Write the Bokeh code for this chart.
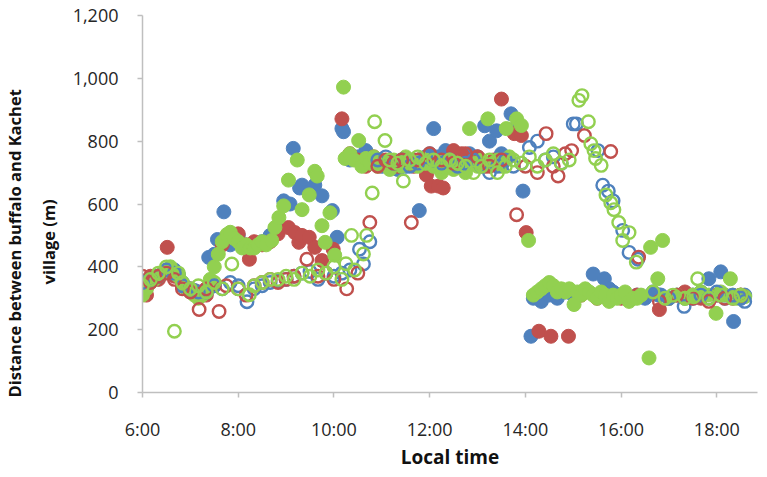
from bokeh.plotting import figure
from bokeh.models import FixedTicker, NumeralTickFormatter, Title
from bokeh.embed import file_html
from bokeh.resources import INLINE

# ---------------- data (local time "H:MM", distance in m) ----------------
blue_fill_t = ["6:00","6:05","6:10","6:15","6:20","6:25","6:30","6:35","6:40","6:45","6:50","6:55",
               "7:00","7:05","7:10","7:15","7:20","7:23","7:30","7:34","7:42","7:50","8:00","8:10",
               "8:20","8:30","8:40","8:50","8:57","9:05","9:09","9:17","9:20","9:30","9:36","9:45",
               "9:58","10:04","10:10","10:12","10:20","10:30","10:40","10:50","11:00","11:10","11:20",
               "11:30","11:40","11:47","11:50","12:00","12:05","12:10","12:20","12:30","12:40","12:50",
               "13:00","13:09","13:15","13:24","13:30","13:42","13:50","13:57","14:07","14:10","14:20",
               "14:30","14:40","14:50","15:00","15:10","15:25","15:39","15:45","15:50","16:00","16:10",
               "16:20","16:30","16:40","16:50","17:00","17:10","17:20","17:30","17:40","17:50","18:00",
               "18:05","18:10","18:21","18:30","18:35"]
blue_fill_v = [355,340,360,370,365,380,385,395,390,375,350,330,
               320,325,315,310,330,430,440,487,575,470,500,460,
               470,480,500,520,610,600,777,651,660,640,660,626,
               579,494,840,830,740,750,770,740,720,730,710,
               720,740,579,730,760,840,750,770,740,730,760,
               750,849,800,833,760,887,850,641,179,300,290,
               310,300,320,310,320,377,362,330,320,310,300,
               310,300,320,310,300,310,300,310,320,362,310,
               384,310,226,300,310]

red_fill_t = ["6:00","6:05","6:10","6:20","6:31","6:40","6:50","7:00","7:10","7:20","7:30","7:40",
              "7:50","8:00","8:10","8:14","8:20","8:30","8:40","8:50","9:03","9:11","9:16","9:20",
              "9:29","9:36","9:45","9:59","10:10","10:20","10:30","10:40","10:50","11:00","11:10",
              "11:20","11:30","11:40","11:50","11:56","12:02","12:11","12:17","12:30","12:40","12:50",
              "13:00","13:10","13:20","13:30","13:46","13:55","14:01","14:17","14:32","14:54","15:10",
              "15:30","16:00","16:20","16:48","17:00","17:20","17:40","18:00","18:20","18:30"]
red_fill_v = [320,310,370,360,462,370,340,330,320,310,340,470,
              500,505,470,424,480,470,480,505,525,509,478,500,
              494,462,420,456,871,760,740,720,750,730,740,
              720,730,720,740,692,657,657,651,770,760,740,
              750,720,740,934,824,818,509,195,179,179,310,
              300,300,310,264,300,320,300,310,300,310]

green_fill_t = ["6:00","6:05","6:10","6:15","6:20","6:25","6:30","6:35","6:40","6:45","6:50","6:55",
                "7:00","7:05","7:10","7:15","7:20","7:25","7:30","7:35","7:40","7:46","7:50","7:55",
                "8:00","8:05","8:10","8:15","8:20","8:25","8:30","8:35","8:42","8:46","8:51","8:57",
                "9:03","9:14","9:20","9:29","9:36","9:39","9:45","9:49","9:55","10:01","10:12","10:14",
                "10:20","10:25","10:31","10:35","10:40","10:45","10:50","10:55","11:00","11:05","11:10",
                "11:15","11:20","11:25","11:30","11:35","11:40","11:45","11:50","11:55","12:00","12:05",
                "12:10","12:15","12:20","12:25","12:30","12:35","12:40","12:45","12:50","12:55","13:00",
                "13:05","13:13","13:20","13:25","13:30","13:36","13:40","13:49","13:55","14:04","14:10",
                "14:15","14:20","14:25","14:30","14:35","14:40","14:45","14:50","14:55","15:01","15:05",
                "15:10","15:15","15:20","15:25","15:30","15:35","15:40","15:45","15:50","15:55","16:00",
                "16:05","16:10","16:15","16:20","16:25","16:35","16:37","16:46","16:52","17:00","17:10",
                "17:20","17:30","17:40","17:50","17:59","18:05","18:10","18:17","18:20","18:25","18:30",
                "18:35"]
green_fill_v = [310,330,350,360,370,380,390,400,380,370,340,330,
                320,310,300,310,320,360,400,440,480,503,510,490,
                480,460,470,460,460,470,480,470,484,525,557,594,
                676,740,582,629,704,689,531,478,572,437,972,745,
                760,740,802,720,745,730,750,720,740,730,710,
                740,730,720,750,730,740,720,745,730,740,720,
                735,700,720,740,710,730,720,700,840,730,720,
                740,871,730,740,720,840,750,871,850,484,310,
                320,330,340,350,340,320,330,320,330,280,320,
                310,330,320,310,300,320,310,290,310,300,310,
                320,290,300,300,310,110,462,362,484,300,310,
                300,310,320,310,252,320,310,362,310,300,310,
                305]

blue_open_t = ["6:00","6:10","6:20","6:30","6:40","6:50","7:00","7:10","7:20","7:30","7:40","7:50",
               "8:00","8:11","8:20","8:30","8:40","8:50","9:00","9:10","9:20","9:30","9:40","9:50",
               "10:00","10:10","10:20","10:32","10:37","10:45","10:55","11:05","11:15","11:25","11:35",
               "11:45","11:55","12:05","12:15","12:25","12:35","12:45","12:55","13:05","13:15","13:25",
               "13:35","13:45","13:55","14:05","14:15","14:25","14:35","14:45","15:00","15:04","15:31",
               "15:37","15:44","15:50","16:02","16:10","16:21","16:46","17:00","17:19","17:30","17:40",
               "17:50","18:00","18:10","18:20","18:30","18:35"]
blue_open_v = [350,360,370,390,380,340,330,320,320,340,330,350,
               340,289,330,340,350,355,360,370,380,385,360,380,
               370,380,390,456,409,480,740,750,730,740,720,
               730,750,740,730,740,720,730,740,720,700,720,
               740,720,730,780,800,740,750,730,855,855,770,
               660,641,610,516,446,424,311,300,274,300,310,
               300,320,300,310,300,290]

red_open_t = ["6:00","6:10","6:20","6:30","6:40","6:50","7:00","7:11","7:20","7:36","7:45","8:00",
              "8:10","8:20","8:30","8:40","8:50","9:00","9:10","9:26","9:40","9:50","10:00","10:16",
              "10:30","10:45","10:55","11:05","11:15","11:25","11:37","11:45","12:00","12:15","12:30",
              "12:45","13:00","13:15","13:30","13:49","14:00","14:15","14:26","14:35","14:41","14:50",
              "14:58","15:14","15:47","16:22","16:48","17:10","17:30","17:50","18:10","18:30"]
red_open_v = [370,350,370,380,360,330,320,264,330,258,340,330,
              310,340,350,360,350,360,370,424,370,380,360,330,
              380,541,720,740,730,740,541,740,760,740,730,
              760,750,720,740,566,720,700,824,720,689,760,
              770,818,767,431,290,310,300,290,300,310]

green_open_t = ["6:00","6:10","6:20","6:30","6:40","6:45","6:50","7:00","7:10","7:20","7:30","7:40",
                "7:52","8:00","8:14","8:20","8:30","8:40","8:50","9:00","9:10","9:20","9:30","9:40",
                "9:50","10:00","10:10","10:15","10:22","10:26","10:37","10:41","10:48","10:51","11:04",
                "11:10","11:20","11:27","11:35","11:45","11:55","12:05","12:15","12:25","12:35","12:45",
                "12:55","13:05","13:15","13:25","13:35","13:45","13:55","14:05","14:15","14:25","14:35",
                "14:45","14:55","15:07","15:11","15:19","15:22","15:26","15:28","15:35","15:41","15:47",
                "15:51","15:57","16:02","16:10","16:19","16:40","16:55","17:05","17:20","17:31","17:36",
                "17:50","18:05","18:20","18:30"]
green_open_v = [340,360,380,400,195,380,350,330,340,320,350,330,
                409,330,311,340,350,360,360,370,360,380,370,390,
                380,400,360,410,500,390,441,500,635,862,802,
                740,730,673,740,750,730,740,720,740,730,720,
                700,720,740,700,720,740,730,750,720,740,760,
                730,740,930,945,862,792,770,745,723,629,604,
                582,541,484,509,415,320,300,310,300,305,362,
                300,310,300,310]

x_ticks = [6, 8, 10, 12, 14, 16, 18]
x_tick_labels = ["6:00", "8:00", "10:00", "12:00", "14:00", "16:00", "18:00"]
y_ticks = [0, 200, 400, 600, 800, 1000, 1200]
y_label_inner = "village (m)"
y_label_outer = "Distance between buffalo and Kachet"

BLUE, RED, GREEN = "#4F81BD", "#C0504D", "#92D050"


def hours(ts):
    out = []
    for s in ts:
        h, m = s.split(":")
        out.append(int(h) + int(m) / 60.0)
    return out


p = figure(width=759, height=472, x_range=(6, 18.85), y_range=(0, 1200),
           output_backend="svg", toolbar_location=None,
           min_border_left=140, min_border_right=2, min_border_top=15, min_border_bottom=20)
p.outline_line_color = None
p.xgrid.visible = False
p.ygrid.visible = False

for t, v, c in [(blue_fill_t, blue_fill_v, BLUE), (red_fill_t, red_fill_v, RED),
                (green_fill_t, green_fill_v, GREEN)]:
    p.scatter(hours(t), v, size=14, fill_color=c, line_color=c, line_width=1, marker="circle")

for t, v, c in [(blue_open_t, blue_open_v, BLUE), (red_open_t, red_open_v, RED),
                (green_open_t, green_open_v, GREEN)]:
    p.scatter(hours(t), v, size=12.5, fill_color=None, line_color=c, line_width=2.4, marker="circle")

p.xaxis.ticker = FixedTicker(ticks=x_ticks)
p.xaxis.major_label_overrides = {k: lab for k, lab in zip(x_ticks, x_tick_labels)}
p.yaxis.ticker = FixedTicker(ticks=y_ticks)
p.yaxis.formatter = NumeralTickFormatter(format="0,0")

for ax in (p.xaxis, p.yaxis):
    ax.axis_line_color = "#BFBFBF"
    ax.axis_line_width = 1.5
    ax.major_tick_line_color = "#BFBFBF"
    ax.major_tick_line_width = 1.5
    ax.major_tick_out = 5
    ax.major_tick_in = 0
    ax.minor_tick_line_color = None
    ax.major_label_text_font = "Open Sans"
    ax.major_label_text_font_size = "18px"
    ax.major_label_text_color = "#262626"

p.xaxis.major_label_standoff = 19
p.yaxis.major_label_standoff = 19
p.xaxis.axis_label = "Local time"
p.xaxis.axis_label_text_font = "Open Sans"
p.xaxis.axis_label_text_font_size = "19px"
p.xaxis.axis_label_text_font_style = "bold"
p.xaxis.axis_label_text_color = "#111111"
p.xaxis.axis_label_standoff = 0

title_style = dict(text_font="Open Sans", text_font_size="16.5px",
                   text_font_style="bold", text_color="#111111", align="left")
p.add_layout(Title(text=y_label_inner, offset=108, standoff=19, **title_style), "left")
p.add_layout(Title(text=y_label_outer, offset=-5, standoff=0, **title_style), "left")

open("out.html", "w").write(file_html(p, INLINE))
